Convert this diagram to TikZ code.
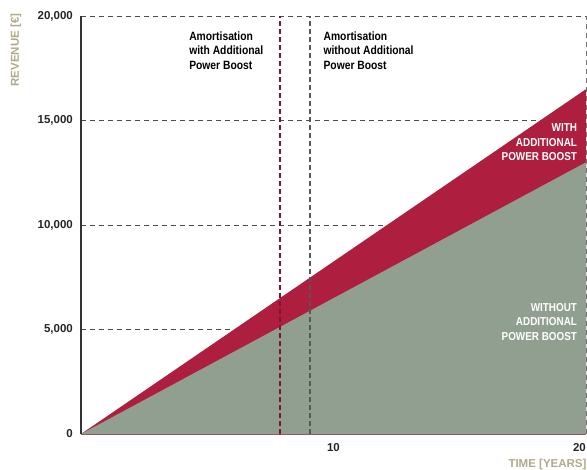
\documentclass[tikz,border=0pt]{standalone}
\usepackage{fontspec}
\setmainfont{Liberation Sans}[FakeStretch=0.86]
\newfontfamily\condbold{Liberation Sans Bold}[FakeStretch=0.86]
\newfontfamily\plainbold{Liberation Sans Bold}
\usepackage{xcolor}
\usepackage{tikz}
\definecolor{boostred}{RGB}{174,30,63}
\definecolor{sage}{RGB}{145,159,144}
\definecolor{khaki}{RGB}{176,170,138}
\definecolor{amortred}{RGB}{125,18,50}
\definecolor{amortgray}{RGB}{85,88,85}

\begin{document}
\begin{tikzpicture}[x=25.25pt, y=20.9pt,
    font=\condbold\fontsize{12}{14.5}\selectfont,
    grid/.style={dash pattern=on 5pt off 4pt, line width=0.9pt, black!70},
    amort/.style={dash pattern=on 5pt off 3pt, line width=1.4pt},
    ticklabel/.style={inner sep=0pt, text=black!85, font=\plainbold\fontsize{11.5}{14}\selectfont},
    axislabel/.style={text=khaki, font=\plainbold\fontsize{11.5}{14}\selectfont},
    boxlabel/.style={align=left, anchor=north west, inner sep=0pt},
    arealabel/.style={align=right, anchor=north east, inner sep=0pt, text=white,
        font=\condbold\fontsize{11.5}{14.5}\selectfont}]
    \useasboundingbox (-81pt,-36pt) rectangle (506pt,434pt);

    % grid behind the areas
    \foreach \v in {5,10,15,20}
        \draw[grid] (0,\v) -- (20,\v);

    % revenue areas
    \fill[boostred] (0,0) -- (20,16.5) -- (20,0) -- cycle;
    \fill[sage] (0,0) -- (20,13) -- (20,0) -- cycle;

    % axes
    \draw[grid, line width=0.7pt, black!55] (20,0) -- (20,20);
    \draw[line width=0.8pt, boostred!45!gray] (0,0) -- (20,0);
    \draw[line width=1.1pt, black!80] (0,0) -- (0,20);

    % amortisation lines
    \draw[amort, amortred] (7.88,0) -- (7.88,20);
    \draw[amort, amortgray] (9.07,0) -- (9.07,20);

    % tick labels
    \foreach \v/\t in {0/0, 5/{5,000}, 10/{10,000}, 15/{15,000}, 20/{20,000}}
        \node[ticklabel, anchor=east] (ytick\v) at ([xshift=-8pt]0,\v) {\t};
    \node[ticklabel, anchor=north] (xtick10) at ([yshift=-9pt]10,0) {10};
    \node[ticklabel, anchor=north east] (xtick20) at ([yshift=-9pt]20,0) {20};

    % axis titles
    \node[axislabel, anchor=north east] (xtitle) at ([xshift=4pt, yshift=-22pt]20,0) {TIME [YEARS]};
    \node[axislabel, rotate=90] (ytitle) at ([xshift=-65pt]0,18.37) {REVENUE [€]};

    % amortisation labels
    \node[boxlabel] (withtext) at (4.28,19.26)
        {Amortisation\\with Additional\\Power Boost};
    \node[boxlabel] (withouttext) at (9.6,19.26)
        {Amortisation\\without Additional\\Power Boost};

    % area labels
    \node[arealabel] (witharea) at (19.65,14.86)
        {WITH\\ADDITIONAL\\POWER BOOST};
    \node[arealabel] (withoutarea) at (19.65,6.26)
        {WITHOUT\\ADDITIONAL\\POWER BOOST};
\end{tikzpicture}
\end{document}
